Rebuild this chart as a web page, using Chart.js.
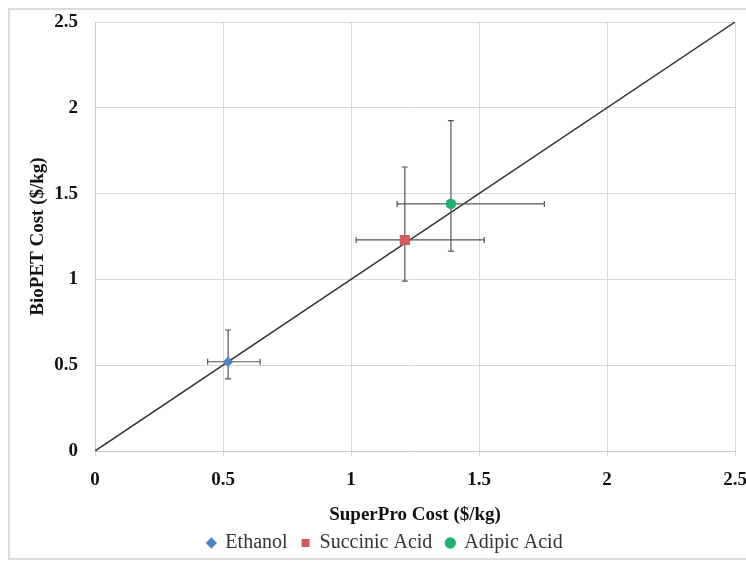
<!DOCTYPE html>
<html>
<head>
<meta charset="utf-8">
<script src="https://cdn.jsdelivr.net/npm/chart.js@4.4.1/dist/chart.umd.min.js"></script>
<style>
    body { margin: 0; background: #ffffff; overflow: hidden; }
    #wrap { position: absolute; left: 0; top: 0; width: 760px; height: 563px; }
    #frame {
        position: absolute; left: 8px; top: 8px; width: 800px; height: 552px;
        border: 2px solid #dcdcdc; box-sizing: border-box;
    }
</style>
</head>
<body>
<div id="frame"></div>
<div id="wrap"><canvas id="costChart" width="760" height="563"></canvas></div>
<script>
// Values
const seriesNames = ['Ethanol', 'Succinic Acid', 'Adipic Acid'];
const superProCost = [0.52, 1.21, 1.39];
const bioPetCost = [0.52, 1.23, 1.44];
const xErrLow = [0.44, 1.02, 1.18];
const xErrHigh = [0.645, 1.52, 1.755];
const yErrLow = [0.42, 0.99, 1.165];
const yErrHigh = [0.705, 1.655, 1.925];
const parityX = [0, 2.5];
const parityY = [0, 2.5];
const axisTicks = [0, 0.5, 1, 1.5, 2, 2.5];

const seriesColors = ['#4a86c8', '#d65a55', '#1db370'];
const seriesStyles = ['rectRot', 'rect', 'circle'];
const seriesRadius = [5, 7, 5];

// error bars, drawn through the chart's own scales
const errorBarPlugin = {
    id: 'errorBars',
    afterDatasetsDraw(chart) {
        const { ctx, scales: { x, y } } = chart;
        const cap = 3;
        ctx.save();
        ctx.strokeStyle = '#555555';
        ctx.lineWidth = 1.2;
        for (let i = 0; i < seriesNames.length; i++) {
            const cx = x.getPixelForValue(superProCost[i]);
            const cy = y.getPixelForValue(bioPetCost[i]);
            const x1 = x.getPixelForValue(xErrLow[i]);
            const x2 = x.getPixelForValue(xErrHigh[i]);
            const y1 = y.getPixelForValue(yErrLow[i]);
            const y2 = y.getPixelForValue(yErrHigh[i]);
            ctx.beginPath();
            ctx.moveTo(x1, cy); ctx.lineTo(x2, cy);
            ctx.moveTo(x1, cy - cap); ctx.lineTo(x1, cy + cap);
            ctx.moveTo(x2, cy - cap); ctx.lineTo(x2, cy + cap);
            ctx.moveTo(cx, y1); ctx.lineTo(cx, y2);
            ctx.moveTo(cx - cap, y1); ctx.lineTo(cx + cap, y1);
            ctx.moveTo(cx - cap, y2); ctx.lineTo(cx + cap, y2);
            ctx.stroke();
        }
        // markers on top of the bars
        chart.data.datasets.forEach((ds, di) => {
            if (ds.type === 'line') return;
            chart.getDatasetMeta(di).data.forEach(el => el.draw(ctx, chart.chartArea));
        });
        ctx.restore();
    }
};

function buildDatasets() {
    const sets = seriesNames.map((name, i) => ({
        type: 'scatter',
        label: name,
        data: [{ x: superProCost[i], y: bioPetCost[i] }],
        backgroundColor: seriesColors[i],
        borderColor: seriesColors[i],
        pointStyle: seriesStyles[i],
        pointRadius: seriesRadius[i],
        pointBorderWidth: 0
    }));
    sets.push({
        type: 'line',
        label: 'parity',
        data: parityX.map((v, i) => ({ x: v, y: parityY[i] })),
        borderColor: '#333333',
        borderWidth: 1.5,
        pointRadius: 0,
        fill: false
    });
    return sets;
}

const tickFont = { family: 'Liberation Serif', size: 19, weight: 'bold' };
const titleFont = { family: 'Liberation Serif', size: 19, weight: 'bold', lineHeight: 1 };

const chart = new Chart(document.getElementById('costChart').getContext('2d'), {
    data: { datasets: buildDatasets() },
    options: {
        responsive: false,
        animation: false,
        devicePixelRatio: 1,
        layout: { padding: { left: 34, top: 22, right: 24, bottom: 0 } },
        plugins: {
            tooltip: { enabled: false },
            legend: {
                position: 'bottom',
                labels: {
                    filter: item => item.text !== 'parity',
                    usePointStyle: true,
                    boxWidth: 8,
                    boxHeight: 8,
                    padding: 14,
                    color: '#333333',
                    font: { family: 'Liberation Serif', size: 20 }
                }
            }
        },
        scales: {
            x: {
                type: 'linear',
                min: 0,
                max: 2.5,
                afterBuildTicks: s => { s.ticks = axisTicks.map(v => ({ value: v })); },
                afterFit: s => { s.height = 68; },
                grid: { color: '#d9d9d9', tickLength: 5, lineWidth: 1 },
                border: { color: '#c8c8c8' },
                ticks: { color: '#111111', font: tickFont, padding: 13, maxRotation: 0, callback: v => String(v) },
                title: {
                    display: true,
                    text: 'SuperPro Cost ($/kg)',
                    color: '#111111',
                    font: titleFont,
                    padding: { top: 0, bottom: -6 }
                }
            },
            y: {
                type: 'linear',
                min: 0,
                max: 2.5,
                afterBuildTicks: s => { s.ticks = axisTicks.map(v => ({ value: v })); },
                afterFit: s => { s.width = 61; },
                grid: { color: '#d9d9d9', tickColor: 'rgba(0,0,0,0)', tickLength: 17, lineWidth: 1 },
                border: { color: '#c8c8c8' },
                ticks: { color: '#111111', font: tickFont, padding: 0, callback: v => String(v) },
                title: {
                    display: true,
                    text: 'BioPET Cost ($/kg)',
                    color: '#111111',
                    font: titleFont,
                    padding: { top: -5.5, bottom: 0 }
                }
            }
        }
    },
    plugins: [errorBarPlugin]
});
</script>
</body>
</html>
